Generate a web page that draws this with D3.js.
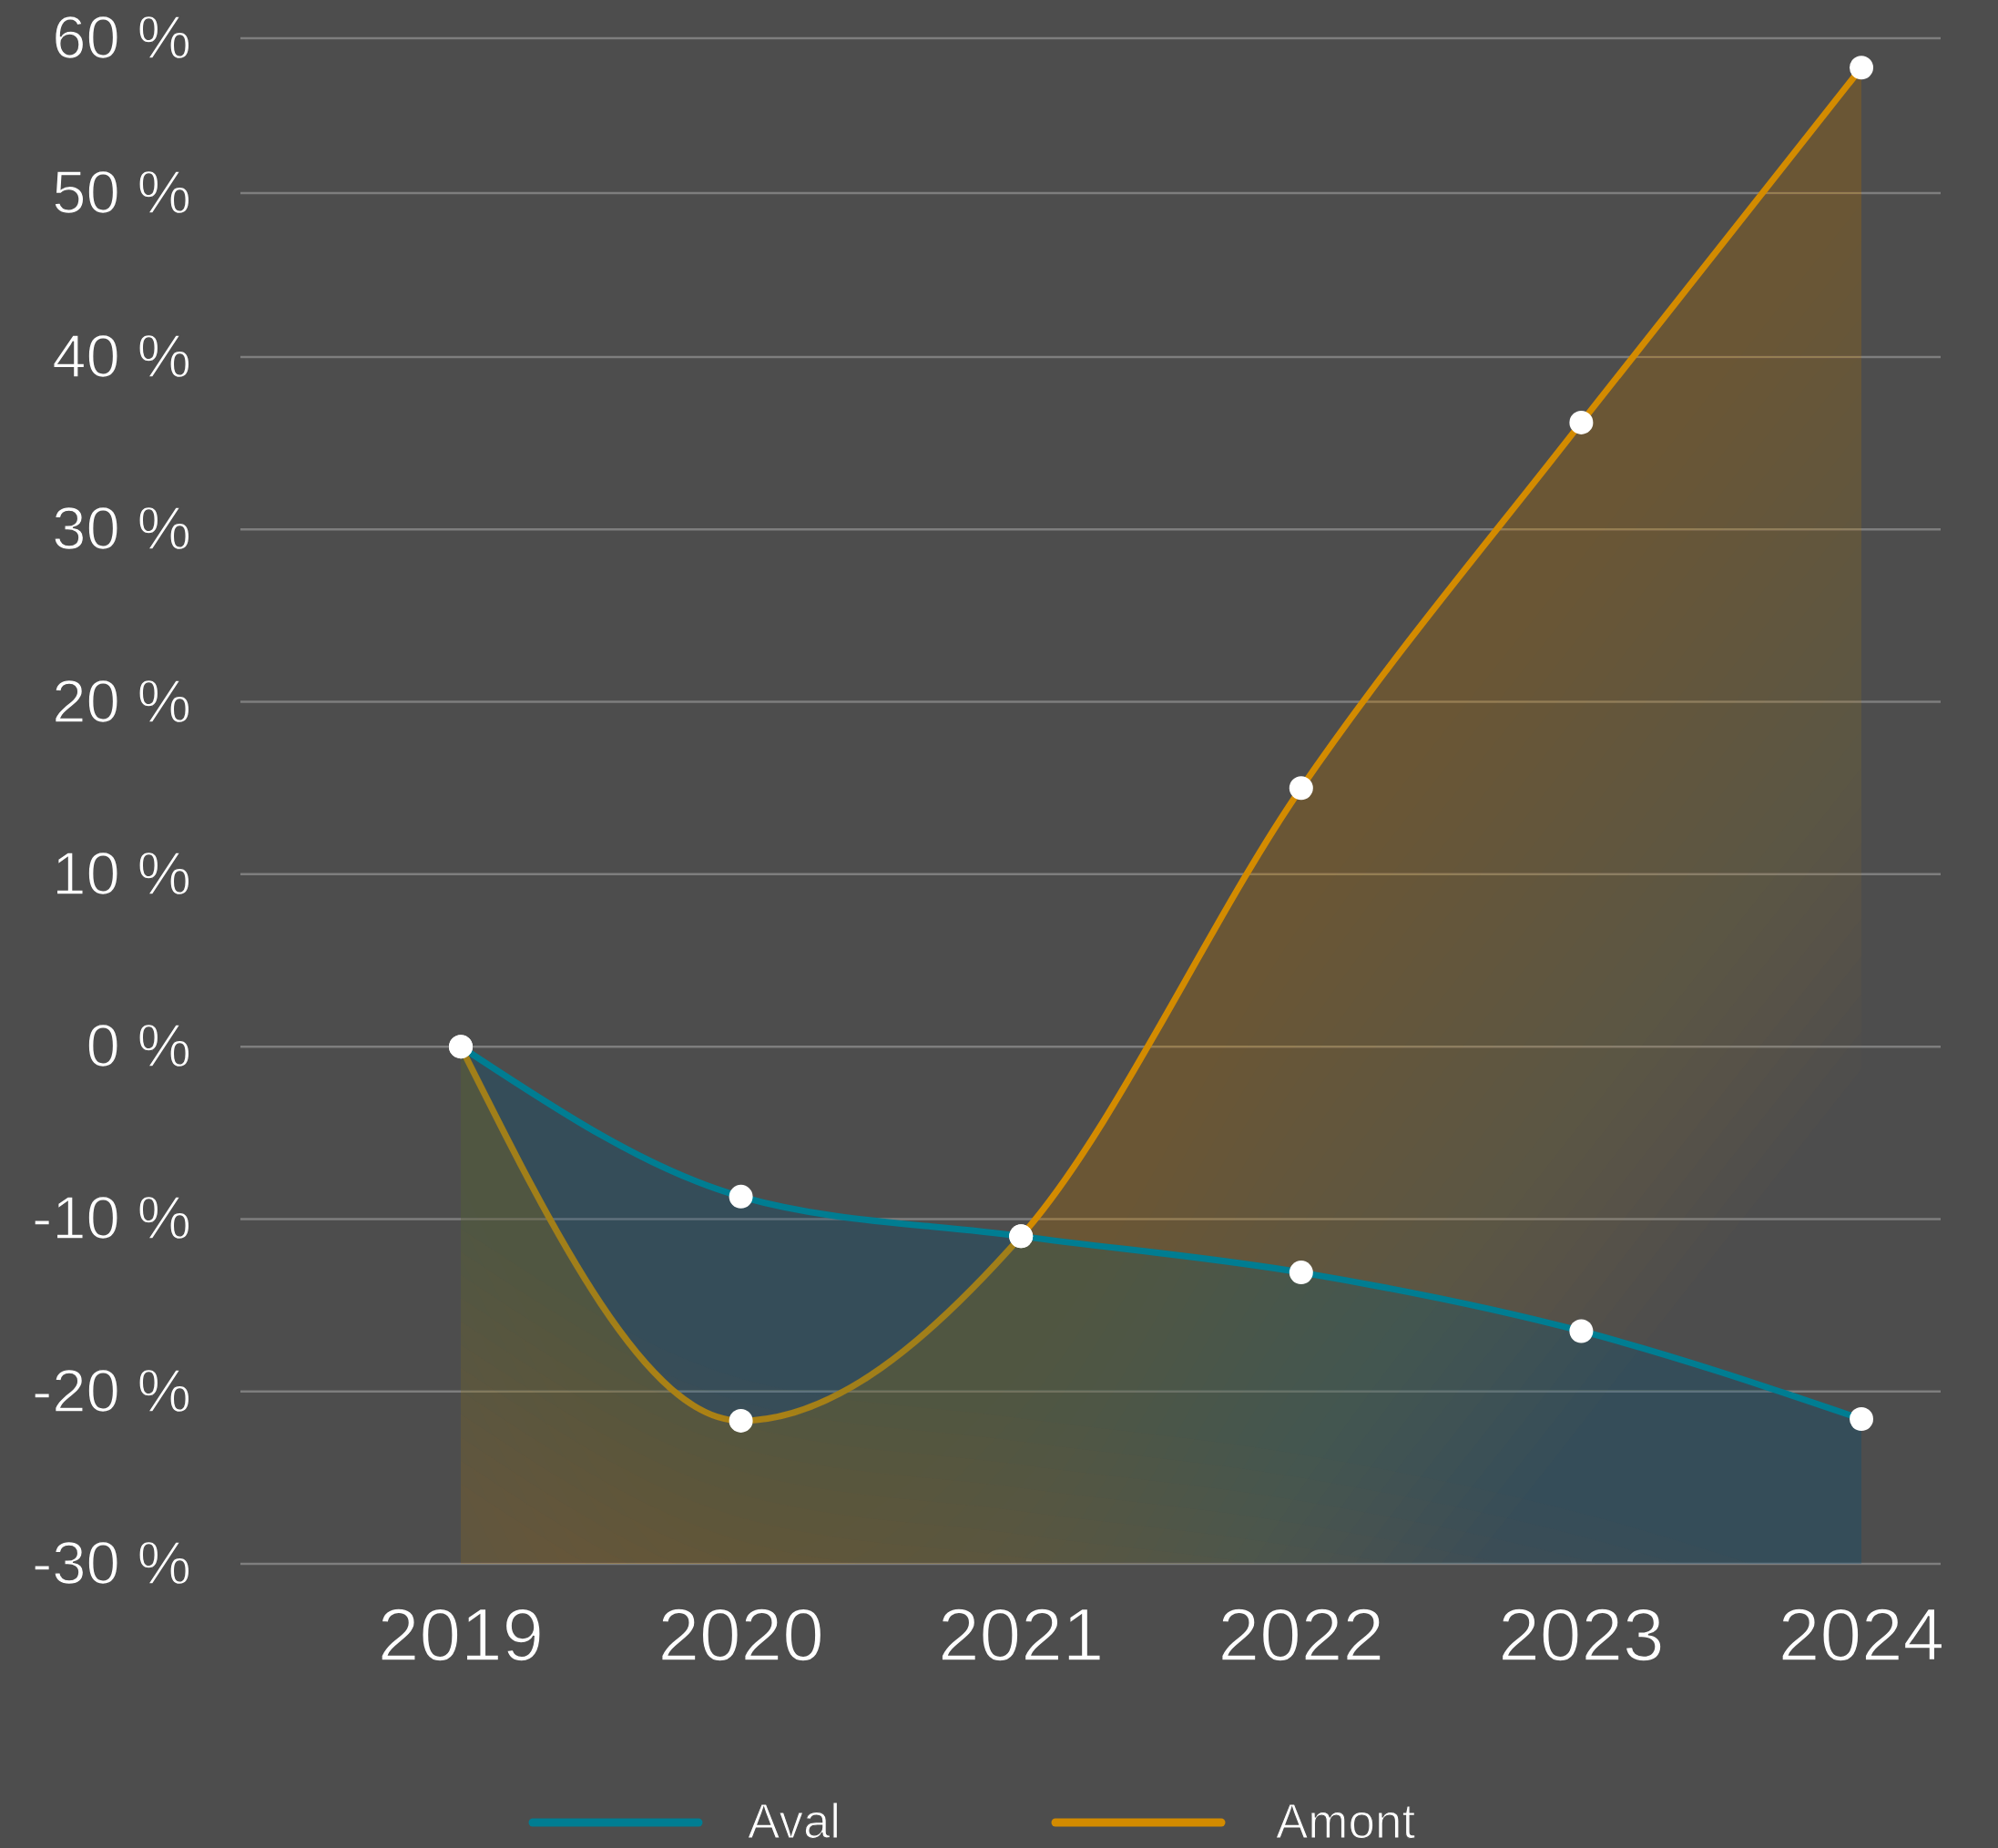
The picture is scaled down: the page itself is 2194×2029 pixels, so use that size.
<!DOCTYPE html>
<html>
<head>
<meta charset="utf-8">
<script src="https://cdn.jsdelivr.net/npm/d3@7"></script>
<style>
  body { margin: 0; background: #4d4d4d; }
  svg { display: block; }
  text { font-family: "Liberation Sans", Arial, sans-serif; fill: #fff; stroke: #4d4d4d; }
</style>
</head>
<body>
<div id="chart"></div>
<script>
// Data
const years = ["2019", "2020", "2021", "2022", "2023", "2024"];
const aval = [0, -8.7, -11.0, -13.1, -16.5, -21.6];
const amont = [0, -21.7, -11.0, 15.0, 36.2, 58.1];
const yTicks = [60, 50, 40, 30, 20, 10, 0, -10, -20, -30];
const seriesNames = ["Aval", "Amont"];

const width = 2194;
const height = 2029;
const colAval = "#007d92";
const colAmont = "#d38b00";

const svg = d3.select("#chart")
    .append("svg")
    .attr("width", width)
    .attr("height", height);

svg.append("rect")
    .attr("width", width)
    .attr("height", height)
    .attr("fill", "#4d4d4d");

const x = d3.scalePoint()
    .domain(years)
    .range([506, 2044]);

// the reference's top two gridlines are spaced a little tighter, so the scale is polylinear
const y = d3.scaleLinear()
    .domain([-30, 40, 50, 60])
    .range([1717, 392, 212, 42]);

const gridLeft = 264, gridRight = 2131;

// gridlines
svg.append("g")
    .selectAll("line")
    .data(yTicks)
    .join("line")
    .attr("x1", gridLeft)
    .attr("x2", gridRight)
    .attr("y1", d => y(d))
    .attr("y2", d => y(d))
    .attr("stroke", "#7e7e7e")
    .attr("stroke-width", 2.5);

// y labels (a thin background stroke makes the glyphs lighter, like the reference)
svg.append("g")
    .selectAll("text")
    .data(yTicks)
    .join("text")
    .attr("x", 210)
    .attr("y", d => y(d) + 22)
    .attr("text-anchor", "end")
    .attr("font-size", 67)
    .attr("stroke-width", 1.4)
    .text(d => `${d} %`);

// x labels
svg.append("g")
    .selectAll("text")
    .data(years)
    .join("text")
    .attr("x", d => x(d))
    .attr("y", 1823)
    .attr("text-anchor", "middle")
    .attr("font-size", 82)
    .attr("stroke-width", 1.6)
    .text(d => d);

const defs = svg.append("defs");
defs.append("clipPath")
    .attr("id", "plot-clip")
    .append("rect")
    .attr("x", 0)
    .attr("y", 0)
    .attr("width", width)
    .attr("height", y(-30));

const toPoints = vals => years.map((yr, i) => ({ yr, v: vals[i] }));

const line = d3.line()
    .x(d => x(d.yr))
    .y(d => y(d.v))
    .curve(d3.curveMonotoneX);

// fill fades with distance below its line: stack of bands, each a little deeper
function drawFill(pts, color, total, dMin, dMax, n) {
    const a = 1 - Math.pow(1 - total, 1 / n);
    const offsets = d3.range(n).map(k => dMin + (dMax - dMin) * k / (n - 1));
    const g = svg.append("g").attr("clip-path", "url(#plot-clip)");
    g.selectAll("path")
        .data(offsets)
        .join("path")
        .attr("d", off => d3.area()
            .x(d => x(d.yr))
            .y1(d => y(d.v))
            .y0(d => y(d.v) + off)
            .curve(d3.curveMonotoneX)(pts))
        .attr("fill", color)
        .attr("fill-opacity", a);
}

const amontPts = toPoints(amont);
const avalPts = toPoints(aval);

drawFill(amontPts, "#d58400", 0.23, 150, 1100, 24);

svg.append("path")
    .datum(amontPts)
    .attr("d", line)
    .attr("fill", "none")
    .attr("stroke", colAmont)
    .attr("stroke-width", 7);

drawFill(avalPts, colAval, 0.21, 200, 480, 12);

svg.append("path")
    .datum(avalPts)
    .attr("d", line)
    .attr("fill", "none")
    .attr("stroke", colAval)
    .attr("stroke-width", 7);

// points
svg.append("g")
    .selectAll("circle")
    .data(avalPts.concat(amontPts))
    .join("circle")
    .attr("cx", d => x(d.yr))
    .attr("cy", d => y(d.v))
    .attr("r", 13)
    .attr("fill", "#fff");

// legend
const legend = svg.append("g")
    .selectAll("g")
    .data(seriesNames)
    .join("g")
    .attr("transform", (d, i) => `translate(${585 + i * 574}, 2001)`);

legend.append("line")
    .attr("x1", 0)
    .attr("x2", 182)
    .attr("stroke", (d, i) => i === 0 ? colAval : colAmont)
    .attr("stroke-width", 9)
    .attr("stroke-linecap", "round");

legend.append("text")
    .attr("x", (d, i) => i === 0 ? 236 : 242)
    .attr("y", 17)
    .attr("font-size", 53)
    .attr("stroke-width", 1.2)
    .text(d => d);
</script>
</body>
</html>
